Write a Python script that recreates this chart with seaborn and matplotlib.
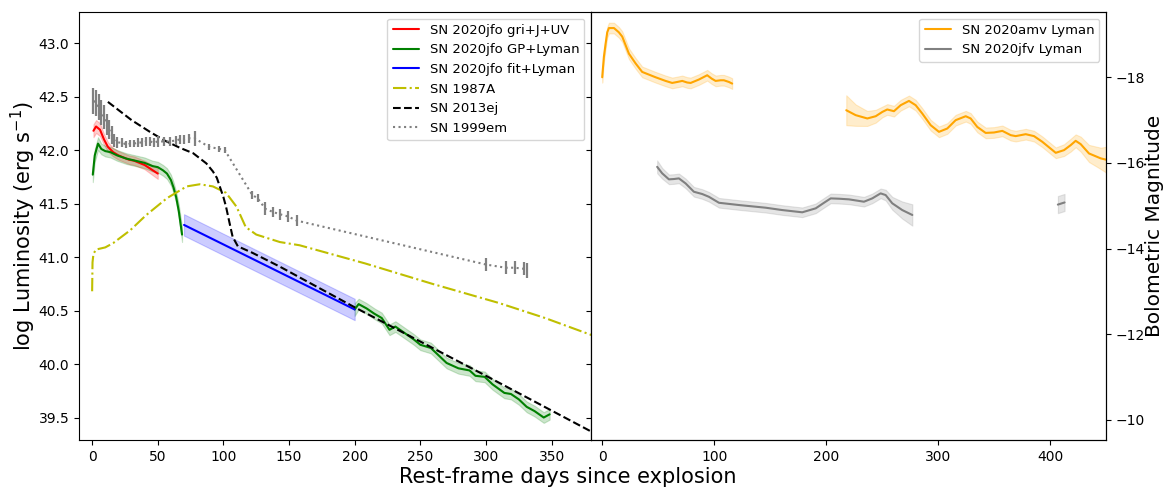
import numpy as np
import pandas as pd
import matplotlib
matplotlib.use("Agg")
import matplotlib.pyplot as plt
from matplotlib.lines import Line2D
import seaborn as sns

# ---------------- data ----------------
# SN 2020jfo gri+J+UV (red)
red_days = [1, 3, 6, 9, 12, 16, 20, 24, 28, 32, 36, 40, 45, 50]
red_L = [42.18, 42.22, 42.19, 42.10, 42.03, 41.98, 41.95, 41.93, 41.91, 41.90, 41.88, 41.86, 41.82, 41.78]
red_err = [0.06, 0.06, 0.06, 0.05, 0.045, 0.04, 0.04, 0.04, 0.04, 0.04, 0.04, 0.04, 0.045, 0.05]

# SN 2020jfo GP+Lyman early (green)
gre_days = [0.5, 2, 4.5, 7, 10, 14, 19, 26, 33, 40, 46, 50, 54, 57, 60, 62, 64, 66, 68.5]
gre_L = [41.77, 41.95, 42.06, 42.01, 41.99, 41.98, 41.95, 41.92, 41.90, 41.88, 41.85, 41.84, 41.81, 41.78,
         41.72, 41.65, 41.56, 41.43, 41.21]
gre_err = [0.07, 0.06, 0.06, 0.05, 0.05, 0.05, 0.05, 0.05, 0.05, 0.05, 0.05, 0.05, 0.05, 0.05,
           0.05, 0.05, 0.05, 0.06, 0.07]

# SN 2020jfo GP+Lyman late (green)
grl_days = [200, 203, 209, 215, 220.6, 226.5, 231, 238, 245, 250, 258, 264, 270, 279, 287.5, 292, 299,
            305, 314, 319, 325, 331, 337, 344, 348.5]
grl_L = [40.51, 40.56, 40.52, 40.47, 40.43, 40.32, 40.35, 40.29, 40.23, 40.18, 40.15, 40.08, 40.01, 39.96,
         39.94, 39.89, 39.88, 39.81, 39.73, 39.72, 39.67, 39.60, 39.56, 39.50, 39.53]
grl_err = [0.06] + [0.05] * 24

# SN 2020jfo fit+Lyman (blue)
blu_days = [70, 200]
blu_L = [41.30, 40.51]
blu_err = [0.10, 0.10]

# SN 1987A
s87_days = [0, 0.3, 1, 3, 10, 16, 29, 41, 57, 72, 82, 92, 102, 110, 117, 125, 143, 158, 208, 259, 310, 345, 385]
s87_L = [40.68, 40.95, 41.03, 41.07, 41.09, 41.13, 41.25, 41.39, 41.55, 41.66, 41.68, 41.66, 41.60, 41.47,
         41.28, 41.21, 41.14, 41.11, 40.94, 40.75, 40.57, 40.43, 40.25]

# SN 2013ej
s13_days = [12, 30, 44, 55, 67, 77, 87, 92, 95, 100, 102, 105, 107, 111, 122, 143, 200, 300, 400]
s13_L = [42.45, 42.28, 42.17, 42.09, 42.02, 41.97, 41.875, 41.80, 41.74, 41.56, 41.47, 41.30, 41.19, 41.10,
         41.04, 40.91, 40.53, 39.89, 39.24]

# SN 1999em (with error bars)
s99_days = [1, 3, 5, 7, 9, 11, 13, 15, 17, 19, 23, 26, 29, 32, 35, 38, 41, 44, 47, 50, 55, 59, 64, 67, 70, 74,
            78, 89, 97, 101, 122, 126, 132, 138, 143, 149, 156, 300, 315, 322, 329, 331]
s99_L = [42.46, 42.44, 42.40, 42.35, 42.31, 42.24, 42.19, 42.14, 42.09, 42.07, 42.07, 42.05, 42.06, 42.06,
         42.07, 42.07, 42.08, 42.08, 42.07, 42.08, 42.08, 42.08, 42.09, 42.10, 42.10, 42.11, 42.11, 42.03,
         42.01, 42.00, 41.58, 41.55, 41.45, 41.42, 41.40, 41.38, 41.34, 40.93, 40.90, 40.90, 40.89, 40.87]
s99_err = [0.12, 0.12, 0.12, 0.12, 0.11, 0.10, 0.09, 0.08, 0.06, 0.05, 0.04, 0.03, 0.03, 0.03, 0.04, 0.04,
           0.04, 0.04, 0.04, 0.05, 0.04, 0.04, 0.04, 0.04, 0.04, 0.04, 0.07, 0.03, 0.03, 0.03, 0.04, 0.04,
           0.06, 0.05, 0.05, 0.05, 0.05, 0.06, 0.06, 0.06, 0.06, 0.07]

# SN 2020amv Lyman (orange), two segments
amv1_days = [0, 1.5, 3.0, 4.5, 6.0, 10.5, 14.9, 17.9, 20.9, 23.9, 29.8, 35.7, 41.7, 47.7, 56.6, 62.5, 67.0,
             71.5, 75.9, 79.0, 86.4, 93.8, 97.7, 101.3, 105.8, 108.7, 113.2, 116.1]
amv1_L = [42.68, 42.87, 42.99, 43.10, 43.14, 43.14, 43.10, 43.06, 42.98, 42.90, 42.81, 42.73, 42.705, 42.68,
          42.646, 42.627, 42.636, 42.646, 42.631, 42.627, 42.659, 42.699, 42.668, 42.646, 42.652, 42.652,
          42.636, 42.621]
amv1_err = [0.05] * 28
amv2_days = [218.0, 226.4, 236.8, 244.3, 250.2, 254.6, 260.6, 266.6, 274.0, 280.0, 285.9, 293.4, 300.8, 308.2,
             315.7, 324.7, 329.1, 335.0, 342.5, 350.0, 357.4, 364.9, 369.3, 378.3, 385.7, 393.1, 405.1, 412.5,
             418.5, 422.9, 427.4, 434.8, 445.3, 450]
amv2_L = [42.372, 42.326, 42.295, 42.316, 42.356, 42.379, 42.363, 42.419, 42.459, 42.419, 42.341, 42.232,
          42.170, 42.201, 42.279, 42.316, 42.295, 42.216, 42.160, 42.164, 42.179, 42.139, 42.130, 42.148,
          42.130, 42.077, 41.974, 41.999, 42.046, 42.086, 42.055, 41.968, 41.922, 41.91]
amv2_err = [0.14, 0.10, 0.07, 0.06, 0.05, 0.05, 0.05, 0.05, 0.05, 0.05, 0.05, 0.05, 0.05, 0.05, 0.05, 0.05,
            0.05, 0.05, 0.05, 0.05, 0.05, 0.05, 0.05, 0.05, 0.05, 0.05, 0.05, 0.055, 0.06, 0.06, 0.07, 0.08,
            0.10, 0.12]

# SN 2020jfv Lyman (grey), two segments
jfv1_days = [49.1, 53.6, 59.6, 64.1, 68.5, 74.5, 81.9, 89.3, 95.3, 104.3, 122.1, 146.0, 160.8, 178.7, 190.7,
             198.1, 204.1, 211.5, 220.4, 233.8, 241.2, 248.7, 253.2, 259.1, 268.0, 277.0]
jfv1_L = [41.843, 41.782, 41.726, 41.729, 41.735, 41.688, 41.610, 41.589, 41.563, 41.507, 41.486, 41.461,
          41.439, 41.418, 41.455, 41.507, 41.548, 41.545, 41.539, 41.517, 41.548, 41.595, 41.579, 41.502,
          41.439, 41.393]
jfv1_err = [0.06, 0.05, 0.045, 0.045, 0.045, 0.045, 0.045, 0.045, 0.045, 0.045, 0.045, 0.045, 0.045, 0.045,
            0.045, 0.045, 0.045, 0.045, 0.045, 0.045, 0.045, 0.045, 0.05, 0.06, 0.08, 0.10]
jfv2_days = [407, 413]
jfv2_L = [41.49, 41.51]
jfv2_err = [0.08, 0.08]

# ---------------- style ----------------
sns.set_theme(style="ticks")
plt.rcParams.update({
    "font.family": ["DejaVu Sans"],
    "axes.edgecolor": "black",
    "axes.linewidth": 0.8,
    "xtick.color": "black",
    "ytick.color": "black",
    "xtick.labelsize": 10,
    "ytick.labelsize": 10,
    "xtick.major.size": 3.5,
    "ytick.major.size": 3.5,
    "xtick.major.width": 0.8,
    "ytick.major.width": 0.8,
    "text.color": "black",
    "axes.labelcolor": "black",
    "legend.fontsize": 9.5,
})

YELLOW = "#bfbf00"

W, H = 1166, 488
fig = plt.figure(figsize=(W / 100, H / 100), dpi=100)
x0, x1, x2 = 79, 591, 1106
ytop, ybot = 12, 440
ax1 = fig.add_axes([x0 / W, 1 - ybot / H, (x1 - x0) / W, (ybot - ytop) / H])
ax2 = fig.add_axes([x1 / W, 1 - ybot / H, (x2 - x1) / W, (ybot - ytop) / H])

YLIM = (39.29, 43.29)


def band(ax, d, L, e, color, label, alpha=0.2):
    df = pd.DataFrame({"day": d, "L": L})
    sns.lineplot(data=df, x="day", y="L", ax=ax, color=color, lw=1.5, label=label, sort=False)
    Larr = np.asarray(L)
    earr = np.asarray(e)
    ax.fill_between(d, Larr - earr, Larr + earr, color=color, alpha=alpha, lw=0.8)


# left panel
band(ax1, red_days, red_L, red_err, "red", "SN 2020jfo gri+J+UV")
band(ax1, gre_days, gre_L, gre_err, "green", "SN 2020jfo GP+Lyman")
band(ax1, grl_days, grl_L, grl_err, "green", None)
band(ax1, blu_days, blu_L, blu_err, "blue", "SN 2020jfo fit+Lyman")
sns.lineplot(x=s87_days, y=s87_L, ax=ax1, color=YELLOW, ls="-.", lw=1.5, label="SN 1987A", sort=False)
sns.lineplot(x=s13_days, y=s13_L, ax=ax1, color="black", ls="--", lw=1.5, label="SN 2013ej", sort=False)
ax1.errorbar(s99_days, s99_L, yerr=s99_err, fmt=":", color="grey", ecolor="grey", elinewidth=1.6,
             lw=1.5, capsize=0, label="SN 1999em")

ax1.set_xlim(-10, 380)
ax1.set_ylim(*YLIM)
ax1.set_xticks([0, 50, 100, 150, 200, 250, 300, 350])
yt = [39.5, 40.0, 40.5, 41.0, 41.5, 42.0, 42.5, 43.0]
ax1.set_yticks(yt)
ax1.set_yticklabels([f"{v:.1f}" for v in yt])
ax1.set_xlabel("")
ax1.set_ylabel("")
h, l = ax1.get_legend_handles_labels()
order = ["SN 2020jfo gri+J+UV", "SN 2020jfo GP+Lyman", "SN 2020jfo fit+Lyman", "SN 1987A", "SN 2013ej",
         "SN 1999em"]
hd = {lab: hh for hh, lab in zip(h, l)}
hd["SN 1999em"] = Line2D([], [], color="grey", ls=":", lw=1.5)
ax1.legend([hd[k] for k in order], order, loc="upper right", fontsize=9.5, framealpha=0.8)

# right panel
band(ax2, amv1_days, amv1_L, amv1_err, "orange", "SN 2020amv Lyman")
band(ax2, amv2_days, amv2_L, amv2_err, "orange", None)
band(ax2, jfv1_days, jfv1_L, jfv1_err, "grey", "SN 2020jfv Lyman")
band(ax2, jfv2_days, jfv2_L, jfv2_err, "grey", None)
ax2.set_xlim(-10, 450)
ax2.set_ylim(*YLIM)
ax2.set_xticks([0, 100, 200, 300, 400])
ax2.tick_params(left=False, labelleft=False)
ax2.set_xlabel("")
ax2.set_ylabel("")
ax2.legend(loc="upper right", fontsize=9.5, framealpha=0.8)

ax3 = ax2.twinx()


def L2M(L):
    return 4.74 - 2.5 * (L - np.log10(3.828e33))


ax3.set_ylim(L2M(YLIM[0]), L2M(YLIM[1]))
ax3.set_yticks([-18, -16, -14, -12, -10])

fig.text(23 / W, 1 - 226 / H, r"log Luminosity (erg s$^{-1}$)", rotation=90, ha="center", va="center",
         fontsize=15)
fig.text(1145 / W, 1 - 226 / H, "Bolometric Magnitude", rotation=90, ha="left", va="center", fontsize=14.5)
fig.text(568 / W, 1 - 477 / H, "Rest-frame days since explosion", ha="center", va="center", fontsize=15)

fig.savefig("out.png", dpi=100)
